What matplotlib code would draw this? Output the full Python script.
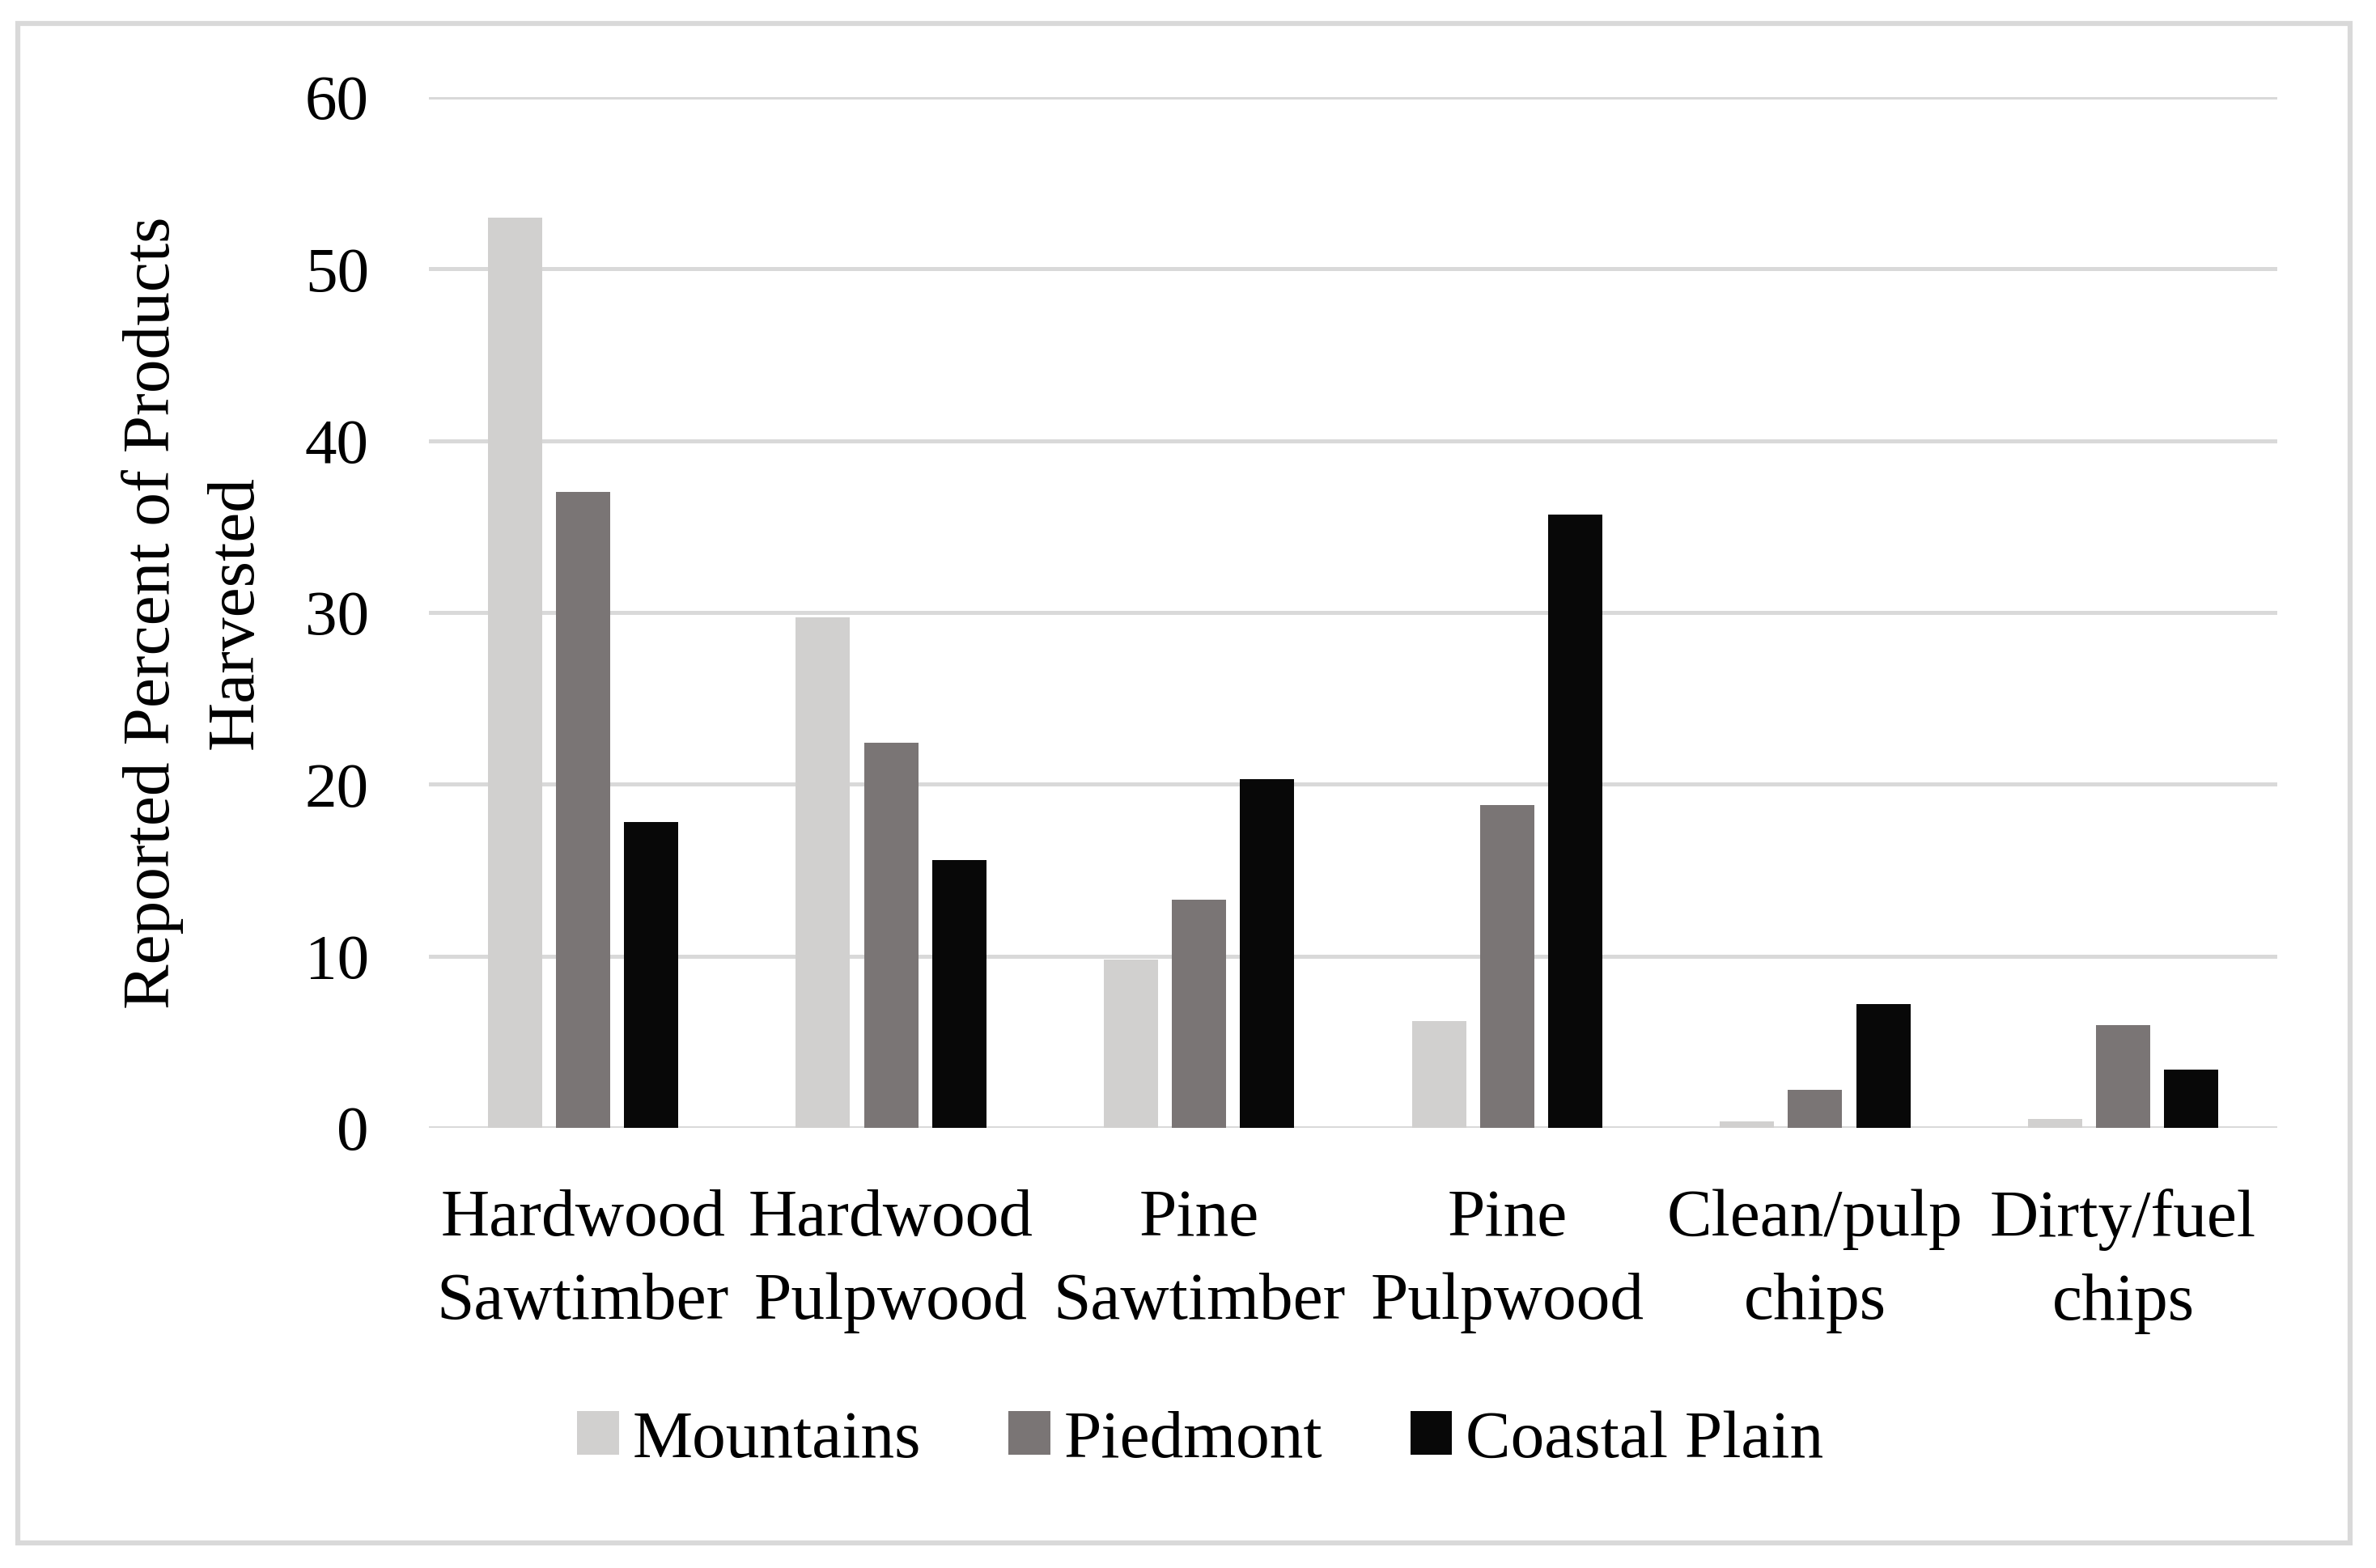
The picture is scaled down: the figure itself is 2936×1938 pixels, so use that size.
import matplotlib
matplotlib.use('Agg')
import matplotlib.pyplot as plt
from matplotlib.patches import Rectangle
import numpy as np

plt.rcParams['font.family'] = ['Liberation Serif', 'DejaVu Serif']

categories = ['Hardwood\nSawtimber', 'Hardwood\nPulpwood', 'Pine\nSawtimber',
              'Pine\nPulpwood', 'Clean/pulp\nchips', 'Dirty/fuel\nchips']
mountains = [53.0, 29.7, 9.8, 6.2, 0.4, 0.5]
piedmont = [37.0, 22.4, 13.3, 18.8, 2.2, 6.0]
coastal = [17.8, 15.6, 20.3, 35.7, 7.2, 3.4]

series = ['Mountains', 'Piedmont', 'Coastal Plain']
colors = ['#d1d0cf', '#7a7575', '#080808']

fs = 20
fig = plt.figure(figsize=(2937 / 300, 1938 / 300), dpi=300)
ax = fig.add_axes([0.1805, 0.2807, 0.9581 - 0.1805, 0.9381 - 0.2807])

x = np.arange(len(categories))
w = 0.176
offsets = [-0.221, 0.0, 0.221]
for vals, off, c, lab in zip([mountains, piedmont, coastal], offsets, colors, series):
    ax.bar(x + off, vals, w, color=c, label=lab, zorder=3)

ax.set_xlim(-0.5, len(categories) - 0.5)
ax.set_ylim(0, 60)
ax.set_yticks(range(0, 61, 10))
ax.yaxis.grid(True, color='#d9d9d9', linewidth=1.2, zorder=0)
ax.set_axisbelow(True)
for s in ax.spines.values():
    s.set_visible(False)
ax.set_xticks(x)
ax.set_xticklabels(categories, fontsize=fs, linespacing=1.48)
ax.tick_params(axis='x', length=0, pad=18)
ax.tick_params(axis='y', length=0, pad=17.8, labelsize=19)

fig.text(240 / 2937, 0.6094, 'Reported Percent of Products\nHarvested',
         rotation=90, ha='center', va='center', multialignment='center',
         fontsize=fs, linespacing=1.48)

fig.legend(loc='center', bbox_to_anchor=(0.505, 0.081), ncol=3, frameon=False,
           fontsize=fs, handlelength=0.62, handleheight=0.62,
           handletextpad=0.2, columnspacing=1.3)

fig.patches.append(Rectangle((0.0075, 0.016), 0.9888 - 0.0075, 0.985 - 0.016,
                             transform=fig.transFigure, fill=False,
                             edgecolor='#d9d9d9', linewidth=1.5))

fig.savefig('out.png', dpi=300)
